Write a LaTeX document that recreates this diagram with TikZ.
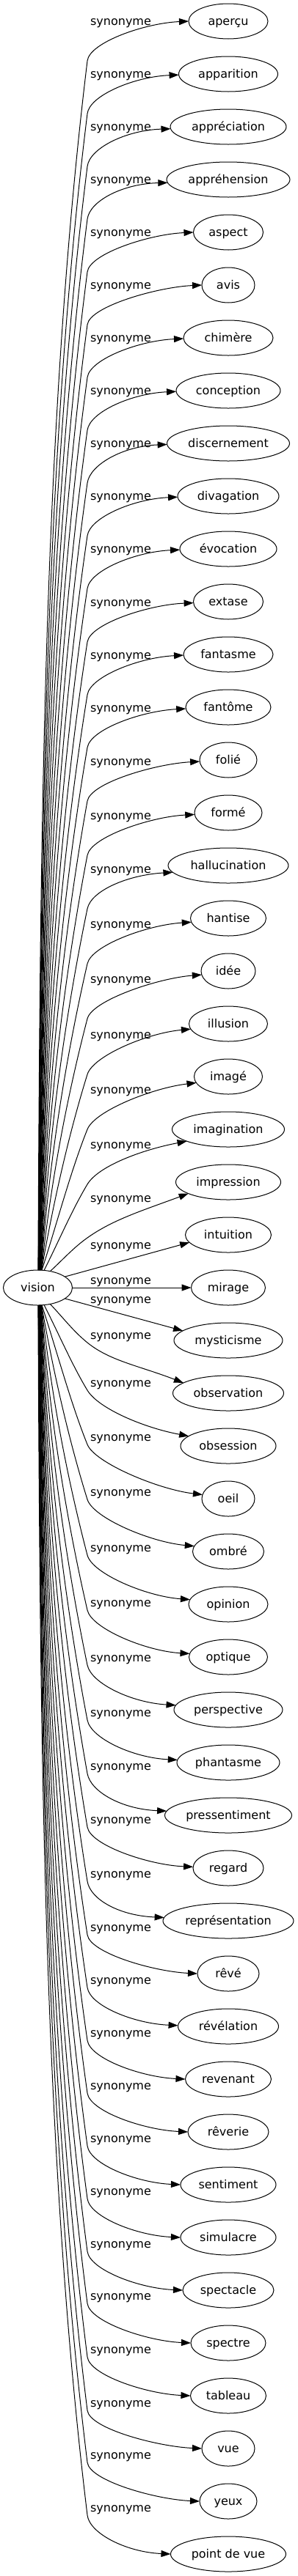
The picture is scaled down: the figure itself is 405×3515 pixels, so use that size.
\documentclass[tikz,border=0pt]{standalone}
\usepackage{fontspec}
\setmainfont{DejaVu Sans}
\usetikzlibrary{arrows.meta,shapes.geometric,calc}
\begin{document}
\begin{tikzpicture}[x=1pt,y=-1pt,
  every node/.style={font=\fontsize{16}{19}\selectfont, text height=13pt, text depth=3pt, inner sep=0pt, outer sep=0pt},
  term/.style={draw, ellipse, line width=1pt, minimum height=48pt},
  relbl/.style={},
  edgeline/.style={line width=1pt, -{Triangle[length=13pt,width=9pt]}}]
\useasboundingbox (0,0) rectangle (405,3515);
\node[term, minimum width=94pt] (v) at (51.5,1757) {vision};
\foreach \i/\tx/\ww/\ly/\ee in {
0/aperçu/108/29/0, 1/apparition/135/101/1, 2/appréciation/158/173/2,
3/appréhension/168/245/3, 4/aspect/95/317/0, 5/avis/72/389/0,
6/chimère/122/461/1, 7/conception/142/533/1, 8/discernement/167/605/1,
9/divagation/138/677/1, 10/évocation/132/749/1, 11/extase/95/822/1,
12/fantasme/122/894/1, 13/fantôme/116/966/2, 14/folié/78/1039/2,
15/formé/92/1113/2, 16/hallucination/164/1186/9, 17/hantise/103/1261/5,
18/idée/74/1336/5, 19/illusion/107/1412/7, 20/imagé/93/1487/8,
21/imagination/153/1562/16, 22/impression/143/1635/15, 23/intuition/117/1699/10,
24/mirage/101/1747/0, 25/mysticisme/148/1773/-13, 26/observation/151/1822/-14,
27/obsession/130/1887/-13, 28/oeil/72/1961/-5, 29/ombré/97/2036/-7,
30/opinion/108/2112/-6, 31/optique/107/2187/-4, 32/perspective/148/2262/-6,
33/phantasme/140/2337/-3, 34/pressentiment/173/2410/-5, 35/regard/96/2483/-1,
36/représentation/178/2557/-4, 37/rêvé/84/2630/0, 38/révélation/137/2702/-1,
39/revenant/117/2774/0, 40/rêverie/110/2846/0, 41/sentiment/130/2918/0,
42/simulacre/130/2990/0, 43/spectacle/124/3062/0, 44/spectre/102/3133/0,
45/tableau/103/3206/0, 46/vue/72/3279/0, 47/yeux/78/3350/0,
48/point de vue/157/3422/0}{
  \pgfmathtruncatemacro\k{\i-24}
  \pgfmathsetmacro\yi{1757+72*\k}
  \node[term, minimum width=\ww pt] (n\i) at (311,\yi) {\tx};
  \node[relbl] (s\i) at (164.5,\ly) {synonyme};
  \pgfmathsetmacro\angA{atan2(0-(\ee), 0-\ww/2*sqrt(1-(\ee/24)^2))}
  \pgfmathtruncatemacro\ak{abs(\k)}
  \ifnum\ak=0
    \draw[edgeline] (v.east) -- (n\i.west);
  \else\ifnum\ak=1
    \pgfmathsetmacro\angT{atan2(0-(\k)*24*sqrt(1-(36.5/47)^2), 36.5)}
    \draw[edgeline] (v.\angT) -- (n\i.\angA);
  \else
    \pgfmathsetmacro\sg{\k>0 ? 1 : -1}
    \pgfmathsetmacro\dxT{\ak==2 ? 16.5 : (\ak==3 ? 8.5 : 0.3+0.25*(24-\ak))}
    \pgfmathsetmacro\hT{24*sqrt(1-(\dxT/47)^2)}
    \pgfmathsetmacro\Tx{51.5+\dxT}
    \pgfmathsetmacro\Ty{1757+\sg*\hT}
    \pgfmathsetmacro\angT{atan2(0-\sg*\hT, \dxT)}
    \pgfmathsetmacro\Wx{119}
    \pgfmathsetmacro\Wy{\ly + (\k<0 ? 54 : 10)}
    \pgfmathsetmacro\Lh{abs(\Wy-\Ty)}
    \pgfmathsetmacro\sig{0.085+60/\Lh}
    \pgfmathsetmacro\ff{min(1,200/\Lh)}
    \pgfmathsetmacro\Pax{\Tx+\ff*0.36*(\Wx-\Tx)}
    \pgfmathsetmacro\Pay{\Ty+0.36*(\Wy-\Ty)}
    \pgfmathsetmacro\Pbx{\Wx-0.3*\Lh*\sig}
    \pgfmathsetmacro\Pby{\Wy-\sg*0.3*\Lh}
    \pgfmathsetmacro\Cax{\Wx+25*\sig}
    \pgfmathsetmacro\Cay{\Wy+25*\sg}
    \pgfmathsetmacro\Ay{\yi+\ee}
    \pgfmathsetmacro\Ax{311-\ww/2*sqrt(1-(\ee/24)^2)}
    \pgfmathsetmacro\bet{0.04+1.4/(\k*\k)}
    \pgfmathsetmacro\Cbx{\Ax-60}
    \pgfmathsetmacro\Cby{\Ay-60*\sg*\bet}
    \draw[edgeline] (v.\angT) .. controls (\Pax,\Pay) and (\Pbx,\Pby) .. (\Wx,\Wy)
      .. controls (\Cax,\Cay) and (\Cbx,\Cby) .. (n\i.\angA);
  \fi\fi
}
\end{tikzpicture}
\end{document}
